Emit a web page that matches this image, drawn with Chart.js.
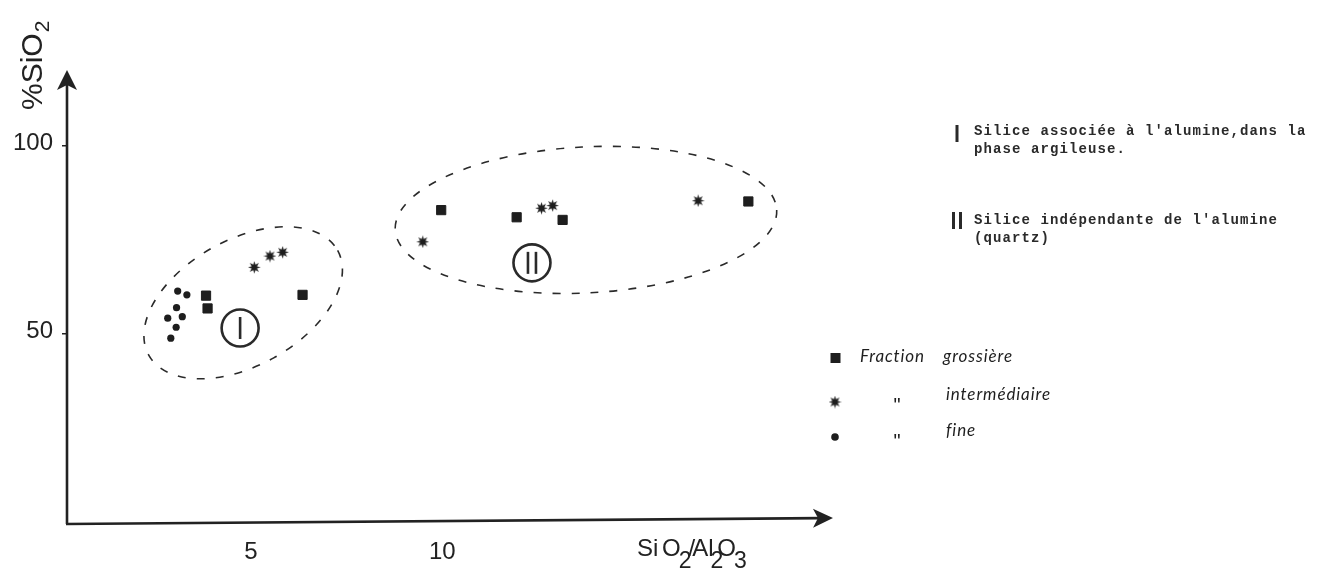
<!DOCTYPE html>
<html lang="fr">
<head>
<meta charset="utf-8">
<title>%SiO2 en fonction de SiO2/Al2O3</title>
<script src="https://cdn.jsdelivr.net/npm/chart.js@4.4.1/dist/chart.umd.min.js"></script>
<style>
  html, body { margin: 0; padding: 0; background: #ffffff; }
  #wrap { width: 1320px; height: 569px; }
  canvas { display: block; }
</style>
</head>
<body>
<div id="wrap"><canvas id="chart" width="1320" height="569"></canvas></div>
<script>
// SiO2/Al2O3 ratio (x) and %SiO2 (y) for each size fraction
const grossiereRatio = [3.83, 3.87, 6.35, 9.97, 11.94, 13.14, 17.99];
const grossiereSiO2  = [60.1, 56.7, 60.3, 82.8, 80.9, 80.2, 85.1];
const intermRatio    = [5.09, 5.50, 5.83, 9.49, 12.59, 12.88, 16.68];
const intermSiO2     = [67.6, 70.6, 71.6, 74.4, 83.3, 84.0, 85.3];
const fineRatio      = [3.09, 3.33, 3.06, 2.83, 3.21, 3.05, 2.91];
const fineSiO2       = [61.3, 60.3, 56.9, 54.1, 54.5, 51.7, 48.8];

// axis ticks
const xTickValues = [5, 10];
const yTickValues = [50, 100];

// legend and notes
const fractionNames = ['Fraction grossière', 'intermédiaire', 'fine'];
const groupNotes = [
  ['Silice associée à l\'alumine,dans la', 'phase argileuse.'],
  ['Silice indépendante de l\'alumine', '(quartz)']
];

const INK = '#1e1e1e';

// the two groups of samples outlined by dashed ellipses (centre in data units)
const groups = [
  { numeral: 1, cx: 4.80, cy: 58.2, rx: 108, ry: 63, angle: -29, lx: 4.72, ly: 51.5 },
  { numeral: 2, cx: 13.75, cy: 80.2, rx: 191, ry: 73, angle: -3, lx: 12.34, ly: 68.8 }
];

function toPoints(xs, ys) { return xs.map((x, i) => ({ x: x, y: ys[i] })); }

// filled asterisk used for the intermediate fraction
function makeStar(size) {
  const c = document.createElement('canvas');
  c.width = c.height = size;
  const g = c.getContext('2d');
  const r = size / 2;
  g.translate(r, r);
  g.beginPath();
  const n = 8;
  for (let i = 0; i < 2 * n; i++) {
    const rad = i % 2 ? r * 0.45 : r * 0.98;
    const a = i * Math.PI / n - Math.PI / 2;
    g.lineTo(Math.cos(a) * rad, Math.sin(a) * rad);
  }
  g.closePath();
  g.fillStyle = INK;
  g.fill();
  return c;
}
const starImg = makeStar(13);

function arrowHead(ctx, tipX, tipY, dirX, dirY, len, half) {
  const px = -dirY, py = dirX;
  const bx = tipX - dirX * len, by = tipY - dirY * len;
  const nx = tipX - dirX * len * 0.75, ny = tipY - dirY * len * 0.75;
  ctx.beginPath();
  ctx.moveTo(tipX, tipY);
  ctx.lineTo(bx + px * half, by + py * half);
  ctx.lineTo(nx, ny);
  ctx.lineTo(bx - px * half, by - py * half);
  ctx.closePath();
  ctx.fill();
}

const decorations = {
  id: 'decorations',
  beforeDatasetsDraw(chart) {
    const ctx = chart.ctx;
    const xs = chart.scales.x, ys = chart.scales.y;
    const a = chart.chartArea;
    ctx.save();

    // axes with arrows
    ctx.strokeStyle = '#222';
    ctx.fillStyle = '#222';
    ctx.lineWidth = 2.6;
    ctx.lineCap = 'butt';
    ctx.beginPath();
    ctx.moveTo(a.left, a.bottom + 2);
    ctx.lineTo(a.left, a.top + 12);
    ctx.stroke();
    arrowHead(ctx, a.left, a.top, 0, -1, 20, 10);

    const yStart = a.bottom + 2, yEnd = a.bottom - 4;
    ctx.beginPath();
    ctx.moveTo(a.left - 1, yStart);
    ctx.lineTo(a.right - 12, yEnd + 0.1);
    ctx.stroke();
    const dx = a.right - a.left, dy = yEnd - yStart;
    const L = Math.hypot(dx, dy);
    arrowHead(ctx, a.right, yEnd, dx / L, dy / L, 20, 9.5);

    // y axis title: %SiO2, rotated
    ctx.save();
    ctx.translate(42, 110);
    ctx.rotate(-Math.PI / 2);
    ctx.font = '30px "Liberation Sans", Arial, sans-serif';
    ctx.textBaseline = 'alphabetic';
    ctx.textAlign = 'left';
    ctx.fillText('%SiO', 0, 0);
    const w1 = ctx.measureText('%SiO').width;
    ctx.font = '21px "Liberation Sans", Arial, sans-serif';
    ctx.fillText('2', w1 + 1, 7);
    ctx.restore();

    // x axis title: SiO2/Al2O3
    ctx.textAlign = 'left';
    ctx.textBaseline = 'alphabetic';
    const big = '24px "Liberation Sans", Arial, sans-serif';
    const sub = '23px "Liberation Sans", Arial, sans-serif';
    const parts = [['Si', big, 0, 0], [' O', big, -3, 0], ['2', sub, -2, 12], ['/', big, -3, 0],
                   ['A', big, -3, 0], ['l', big, 0, 0], ['2', sub, -3, 12], ['O', big, -6, 0], ['3', sub, -2, 12]];
    let px = 637;
    const base = 556;
    for (const [t, f, kern, drop] of parts) {
      ctx.font = f;
      px += kern;
      ctx.fillText(t, px, base + drop);
      px += ctx.measureText(t).width;
    }

    // dashed outlines of the two groups, with their circled numerals
    ctx.strokeStyle = '#2a2a2a';
    for (const g of groups) {
      const cx = xs.getPixelForValue(g.cx), cy = ys.getPixelForValue(g.cy);
      ctx.lineWidth = 1.6;
      ctx.setLineDash([8, 11]);
      ctx.beginPath();
      ctx.ellipse(cx, cy, g.rx, g.ry, g.angle * Math.PI / 180, 0, Math.PI * 2);
      ctx.stroke();
      ctx.setLineDash([]);

      const lx = xs.getPixelForValue(g.lx), ly = ys.getPixelForValue(g.ly);
      ctx.lineWidth = 2.6;
      ctx.beginPath();
      ctx.arc(lx, ly, 18.5, 0, Math.PI * 2);
      ctx.stroke();
      const offs = g.numeral === 1 ? [0] : [-4, 4];
      for (const o of offs) {
        ctx.beginPath();
        ctx.moveTo(lx + o, ly - 11);
        ctx.lineTo(lx + o, ly + 11);
        ctx.stroke();
      }
    }

    // notes describing the two groups
    ctx.fillStyle = '#2a2a2a';
    ctx.fillRect(955.5, 125, 3, 17);
    ctx.fillRect(952, 212, 3, 17);
    ctx.fillRect(959, 212, 3, 17);
    ctx.font = 'bold 14px "Liberation Mono", "DejaVu Sans Mono", monospace';
    ctx.textBaseline = 'middle';
    if ('letterSpacing' in ctx) ctx.letterSpacing = '1.1px';
    ctx.fillText(groupNotes[0][0], 974, 131);
    ctx.fillText(groupNotes[0][1], 974, 149);
    ctx.fillText(groupNotes[1][0], 974, 220);
    ctx.fillText(groupNotes[1][1], 974, 238);

    // legend of the size fractions
    ctx.fillStyle = INK;
    ctx.fillRect(830.5, 353, 10, 10);
    ctx.drawImage(starImg, 835 - 6.5, 402 - 6.5);
    ctx.beginPath();
    ctx.arc(835, 437, 3.8, 0, Math.PI * 2);
    ctx.fill();

    ctx.font = 'italic 17px Lato, "Open Sans", sans-serif';
    if ('letterSpacing' in ctx) ctx.letterSpacing = '0.9px';
    ctx.textBaseline = 'middle';
    const fr = fractionNames[0].split(' ');
    ctx.fillText(fr[0], 860, 357);
    ctx.fillText(fr[1], 943, 357);
    ctx.fillText(fractionNames[1], 946, 395);
    ctx.fillText(fractionNames[2], 946, 431);
    if ('letterSpacing' in ctx) ctx.letterSpacing = '0px';
    ctx.font = '20px "Liberation Sans", Arial, sans-serif';
    ctx.textAlign = 'center';
    ctx.fillText('"', 897, 406);
    ctx.fillText('"', 897, 442);

    ctx.restore();
  }
};

new Chart(document.getElementById('chart'), {
  type: 'scatter',
  data: {
    datasets: [
      {
        label: fractionNames[0],
        data: toPoints(grossiereRatio, grossiereSiO2),
        pointStyle: 'rect',
        pointRadius: 6.5,
        backgroundColor: INK,
        borderColor: INK,
        borderWidth: 1
      },
      {
        label: 'Fraction ' + fractionNames[1],
        data: toPoints(intermRatio, intermSiO2),
        pointStyle: starImg,
        pointRadius: 6,
        backgroundColor: INK,
        borderColor: INK
      },
      {
        label: 'Fraction ' + fractionNames[2],
        data: toPoints(fineRatio, fineSiO2),
        pointStyle: 'circle',
        pointRadius: 3.6,
        backgroundColor: INK,
        borderColor: INK,
        borderWidth: 0
      }
    ]
  },
  options: {
    responsive: false,
    animation: false,
    devicePixelRatio: 1,
    clip: false,
    layout: { padding: { top: 70, right: 487, left: 0, bottom: 0 } },
    plugins: {
      legend: { display: false },
      tooltip: { enabled: false }
    },
    scales: {
      x: {
        type: 'linear',
        min: 0.2,
        max: 20.2,
        afterFit(scale) { scale.height = 47; },
        afterBuildTicks(scale) { scale.ticks = xTickValues.map(v => ({ value: v })); },
        grid: { display: false, drawTicks: false },
        border: { display: false },
        ticks: {
          padding: 16,
          color: '#222',
          font: { family: '"Liberation Sans", Arial, sans-serif', size: 24 },
          callback: v => String(v)
        }
      },
      y: {
        type: 'linear',
        min: 0,
        max: 120,
        afterFit(scale) { scale.width = 67; },
        afterBuildTicks(scale) { scale.ticks = yTickValues.map(v => ({ value: v })); },
        grid: { drawOnChartArea: false, drawTicks: true, tickLength: 5, color: '#222', lineWidth: 1.5 },
        border: { display: false },
        ticks: {
          padding: 9,
          labelOffset: -2,
          color: '#222',
          font: { family: '"Liberation Sans", Arial, sans-serif', size: 24 },
          callback: v => String(v)
        }
      }
    }
  },
  plugins: [decorations]
});
</script>
</body>
</html>
